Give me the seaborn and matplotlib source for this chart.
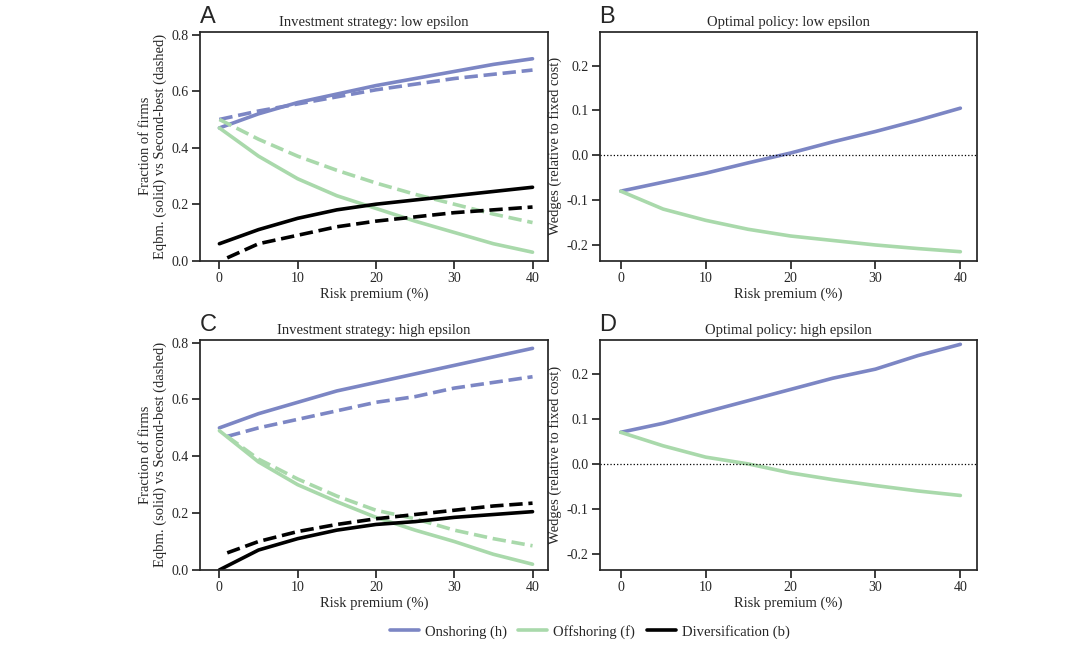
import matplotlib
matplotlib.use("Agg")
import matplotlib.pyplot as plt
import seaborn as sns
import pandas as pd
from matplotlib.lines import Line2D

sns.set_theme(style="ticks")
plt.rcParams['font.family'] = ['Liberation Serif', 'DejaVu Serif']

x = [0, 5, 10, 15, 20, 25, 30, 35, 40]
x1 = [1, 5, 10, 15, 20, 25, 30, 35, 40]

a_on = [0.47, 0.52, 0.56, 0.59, 0.62, 0.645, 0.67, 0.695, 0.715]
a_on_d = [0.50, 0.53, 0.555, 0.58, 0.605, 0.625, 0.645, 0.66, 0.675]
a_off = [0.47, 0.37, 0.29, 0.23, 0.185, 0.14, 0.10, 0.06, 0.03]
a_off_d = [0.50, 0.43, 0.37, 0.32, 0.275, 0.235, 0.20, 0.165, 0.135]
a_div = [0.06, 0.11, 0.15, 0.18, 0.20, 0.215, 0.23, 0.245, 0.26]
a_div_d = [0.01, 0.06, 0.09, 0.12, 0.14, 0.155, 0.17, 0.18, 0.19]

b_on = [-0.08, -0.06, -0.04, -0.017, 0.005, 0.03, 0.053, 0.078, 0.105]
b_off = [-0.08, -0.12, -0.145, -0.165, -0.18, -0.19, -0.20, -0.208, -0.215]

c_on = [0.50, 0.55, 0.59, 0.63, 0.66, 0.69, 0.72, 0.75, 0.78]
c_on_d = [0.47, 0.50, 0.53, 0.56, 0.59, 0.61, 0.64, 0.66, 0.68]
c_off = [0.49, 0.38, 0.30, 0.24, 0.185, 0.14, 0.10, 0.055, 0.02]
c_off_d = [0.47, 0.39, 0.32, 0.26, 0.21, 0.18, 0.14, 0.11, 0.085]
c_div = [0.0, 0.07, 0.11, 0.14, 0.16, 0.17, 0.185, 0.195, 0.205]
c_div_d = [0.06, 0.10, 0.135, 0.16, 0.18, 0.195, 0.21, 0.225, 0.235]

d_on = [0.07, 0.09, 0.115, 0.14, 0.165, 0.19, 0.21, 0.24, 0.265]
d_off = [0.07, 0.04, 0.015, 0.0, -0.02, -0.035, -0.048, -0.06, -0.07]

BLUE = "#7c86c4"
GREEN = "#a9d9ab"
BLACK = "#000000"
LW = 2.6

fig = plt.figure(figsize=(10.92, 6.65), dpi=100)
axA = fig.add_axes([0.183, 0.608, 0.319, 0.344])
axB = fig.add_axes([0.549, 0.608, 0.346, 0.344])
axC = fig.add_axes([0.183, 0.143, 0.319, 0.346])
axD = fig.add_axes([0.549, 0.143, 0.346, 0.346])

def line(ax, xs, ys, c, dashed=False):
    sns.lineplot(x=xs, y=ys, ax=ax, color=c, lw=LW, linestyle="--" if dashed else "-")

def letter_text(ax, letter):
    ax.text(0.0, 1.065, letter, transform=ax.transAxes, fontsize=17,
            family="Liberation Sans", va="center", ha="left")

for ax, on, ond, off, offd, dv, dvd, title, letter in [
        (axA, a_on, a_on_d, a_off, a_off_d, a_div, a_div_d, "Investment strategy: low epsilon", "A"),
        (axC, c_on, c_on_d, c_off, c_off_d, c_div, c_div_d, "Investment strategy: high epsilon", "C")]:
    line(ax, x, on, BLUE)
    line(ax, x1 if ax is axC else x, ond, BLUE, True)
    line(ax, x, off, GREEN)
    line(ax, x1 if ax is axC else x, offd, GREEN, True)
    line(ax, x, dv, BLACK)
    line(ax, x1, dvd, BLACK, True)
    ax.set_ylim(0, 0.81)
    ax.set_yticks([0, 0.2, 0.4, 0.6, 0.8])
    ax.set_ylabel("Fraction of firms\nEqbm. (solid) vs Second-best (dashed)", fontsize=10.5, labelpad=3)
    ax.set_title(title, fontsize=10.5, pad=4)
    letter_text(ax, letter)

for ax, on, off, title, letter in [
        (axB, b_on, b_off, "Optimal policy: low epsilon", "B"),
        (axD, d_on, d_off, "Optimal policy: high epsilon", "D")]:
    line(ax, x, on, BLUE)
    line(ax, x, off, GREEN)
    ax.axhline(0, color="black", lw=0.9, ls=":")
    ax.set_ylim(-0.235, 0.275)
    ax.set_yticks([-0.2, -0.1, 0, 0.1, 0.2])
    ax.set_yticklabels(["-0.2", "-0.1", "0.0", "0.1", "0.2"])
    ax.set_ylabel("Wedges (relative to fixed cost)", fontsize=10.5, labelpad=3)
    ax.set_title(title, fontsize=10.5, pad=4)
    letter_text(ax, letter)

for ax in [axA, axB, axC, axD]:
    ax.set_xlim(-2.5, 42)
    ax.set_xticks([0, 10, 20, 30, 40])
    ax.set_xlabel("Risk premium (%)", fontsize=10.5, labelpad=2)
    ax.tick_params(labelsize=10, pad=2)

handles = [Line2D([], [], color=BLUE, lw=LW), Line2D([], [], color=GREEN, lw=LW), Line2D([], [], color=BLACK, lw=LW)]
fig.legend(handles, ["Onshoring (h)", "Offshoring (f)", "Diversification (b)"], loc="center",
           bbox_to_anchor=(0.54, 0.05), ncol=3, frameon=False, fontsize=10.5, handlelength=2,
           columnspacing=0.8, handletextpad=0.4)

fig.savefig("out.png", dpi=100)
